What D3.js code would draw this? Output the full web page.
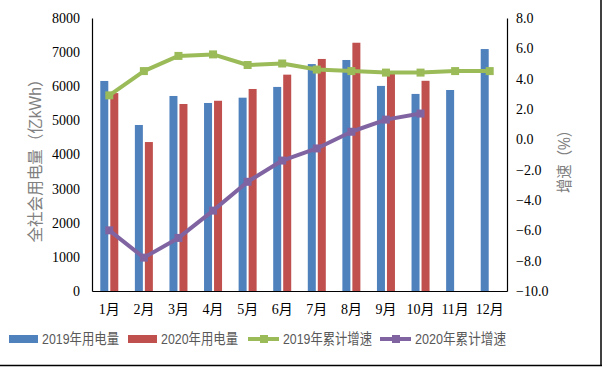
<!DOCTYPE html>
<html>
<head>
<meta charset="utf-8">
<script src="https://cdn.jsdelivr.net/npm/d3@7"></script>
<style>
  body { margin: 0; background: #fff; }
  svg { display: block; }
</style>
</head>
<body>
<svg id="chart" width="604" height="367"></svg>
<script>
const categories = ["1月","2月","3月","4月","5月","6月","7月","8月","9月","10月","11月","12月"];
const usage2019 = [6155, 4865, 5715, 5510, 5665, 5980, 6650, 6770, 6010, 5775, 5890, 7090];
const usage2020 = [5800, 4365, 5480, 5575, 5920, 6340, 6800, 7275, 6360, 6160, null, null];
const growth2019 = [2.9, 4.5, 5.5, 5.6, 4.9, 5.0, 4.6, 4.5, 4.4, 4.4, 4.5, 4.5];
const growth2020 = [-6.0, -7.8, -6.5, -4.7, -2.8, -1.4, -0.6, 0.5, 1.3, 1.7, null, null];
const leftTicks = [0, 1000, 2000, 3000, 4000, 5000, 6000, 7000, 8000];
const rightTicks = [-10, -8, -6, -4, -2, 0, 2, 4, 6, 8];
const seriesNames = ["2019年用电量", "2020年用电量", "2019年累计增速", "2020年累计增速"];
const colors = { b2019: "#4F81BD", b2020: "#C0504D", l2019: "#9BBB59", l2020: "#8064A2" };

const svg = d3.select("#chart");
const m = { left: 92, right: 507, top: 18, bottom: 291 };

const x = d3.scaleBand().domain(categories).range([m.left, m.right]).paddingInner(0).paddingOuter(0);
const yL = d3.scaleLinear().domain([0, 8000]).range([m.bottom, m.top]);
const yR = d3.scaleLinear().domain([-10, 8]).range([m.bottom, m.top]);

const barW = 8, gap = 2;
const serifFont = "'Liberation Serif', 'Noto Sans CJK SC', serif";
const sansFont = "'Liberation Sans', 'Noto Sans CJK SC', sans-serif";

// bars
const g = svg.append("g");
g.selectAll("rect.b2019").data(categories).enter().append("rect")
  .attr("x", (d) => x(d) + x.bandwidth()/2 - barW - gap/2)
  .attr("width", barW)
  .attr("y", (d,i) => yL(usage2019[i]))
  .attr("height", (d,i) => yL(0) - yL(usage2019[i]))
  .attr("fill", colors.b2019);
g.selectAll("rect.b2020").data(categories.filter((d,i)=>usage2020[i]!=null)).enter().append("rect")
  .attr("x", (d) => x(d) + x.bandwidth()/2 + gap/2)
  .attr("width", barW)
  .attr("y", (d) => yL(usage2020[categories.indexOf(d)]))
  .attr("height", (d) => yL(0) - yL(usage2020[categories.indexOf(d)]))
  .attr("fill", colors.b2020);

// axes
const axL = d3.axisLeft(yL).tickValues(leftTicks).tickSize(0).tickPadding(12).tickFormat(d3.format("d"));
const gl = svg.append("g").attr("transform", `translate(${m.left},0)`).call(axL);
gl.select(".domain").attr("stroke", "#000").attr("stroke-width", 1.2);
gl.selectAll("text").attr("font-family", serifFont).attr("font-size", 14).attr("fill", "#000");

const axR = d3.axisRight(yR).tickValues(rightTicks).tickSize(0).tickPadding(9).tickFormat(d3.format(".1f"));
const gr = svg.append("g").attr("transform", `translate(${m.right},0)`).call(axR);
gr.select(".domain").attr("stroke", "#000").attr("stroke-width", 1.2);
gr.selectAll("text").attr("font-family", serifFont).attr("font-size", 14).attr("fill", "#000");

const axB = d3.axisBottom(x).tickSize(0).tickPadding(13);
const gb = svg.append("g").attr("transform", `translate(0,${m.bottom})`).call(axB);
gb.select(".domain").attr("stroke", "#000").attr("stroke-width", 1.2);
gb.selectAll("text").attr("font-family", serifFont).attr("font-size", 14).attr("fill", "#000");

// lines
function drawLine(vals, color) {
  const pts = categories.map((c,i) => ({c, v: vals[i]})).filter(p => p.v != null);
  const line = d3.line().x(p => x(p.c) + x.bandwidth()/2).y(p => yR(p.v));
  svg.append("path").datum(pts).attr("d", line).attr("fill", "none")
    .attr("stroke", color).attr("stroke-width", 4).attr("stroke-linejoin", "round");
  svg.selectAll(null).data(pts).enter().append("rect")
    .attr("x", p => x(p.c) + x.bandwidth()/2 - 4)
    .attr("y", p => yR(p.v) - 4)
    .attr("width", 8).attr("height", 8).attr("fill", color);
}
drawLine(growth2019, colors.l2019);
drawLine(growth2020, colors.l2020);

// axis titles
svg.append("text").attr("transform", "translate(41,157) rotate(-90)")
  .attr("text-anchor", "middle").attr("font-family", sansFont).attr("font-size", 16)
  .attr("textLength", 171).attr("lengthAdjust", "spacingAndGlyphs")
  .attr("fill", "#808080").text("全社会用电量（亿kWh）");
svg.append("text").attr("transform", "translate(570,158) rotate(-90)")
  .attr("text-anchor", "middle").attr("font-family", sansFont).attr("font-size", 16)
  .attr("textLength", 70).attr("lengthAdjust", "spacingAndGlyphs")
  .attr("fill", "#808080").text("增速（%）");

// legend
const legend = [
  { name: seriesNames[0], type: "bar", color: colors.b2019, x: 9, tl: 77 },
  { name: seriesNames[1], type: "bar", color: colors.b2020, x: 128, tl: 77 },
  { name: seriesNames[2], type: "line", color: colors.l2019, x: 248, tl: 89 },
  { name: seriesNames[3], type: "line", color: colors.l2020, x: 380, tl: 91 },
];
const ly = 339;
legend.forEach(l => {
  if (l.type === "bar") {
    svg.append("rect").attr("x", l.x).attr("y", ly - 4).attr("width", 29).attr("height", 8).attr("fill", l.color);
  } else {
    svg.append("line").attr("x1", l.x).attr("x2", l.x + 31).attr("y1", ly).attr("y2", ly)
      .attr("stroke", l.color).attr("stroke-width", 4);
    svg.append("rect").attr("x", l.x + 12).attr("y", ly - 4).attr("width", 8).attr("height", 8).attr("fill", l.color);
  }
  svg.append("text").attr("x", l.x + (l.type === "bar" ? 33 : 35)).attr("y", ly).attr("dy", "0.35em")
    .attr("font-family", sansFont).attr("font-size", 15)
    .attr("textLength", l.tl).attr("lengthAdjust", "spacingAndGlyphs")
    .attr("fill", "#595959").text(l.name);
});

// outer frame edges (right and bottom)
svg.append("line").attr("x1", 601).attr("x2", 601).attr("y1", 0).attr("y2", 366).attr("stroke", "#000").attr("stroke-width", 1.5);
svg.append("line").attr("x1", 0).attr("x2", 602).attr("y1", 365.5).attr("y2", 365.5).attr("stroke", "#000").attr("stroke-width", 1.5);
</script>
</body>
</html>
